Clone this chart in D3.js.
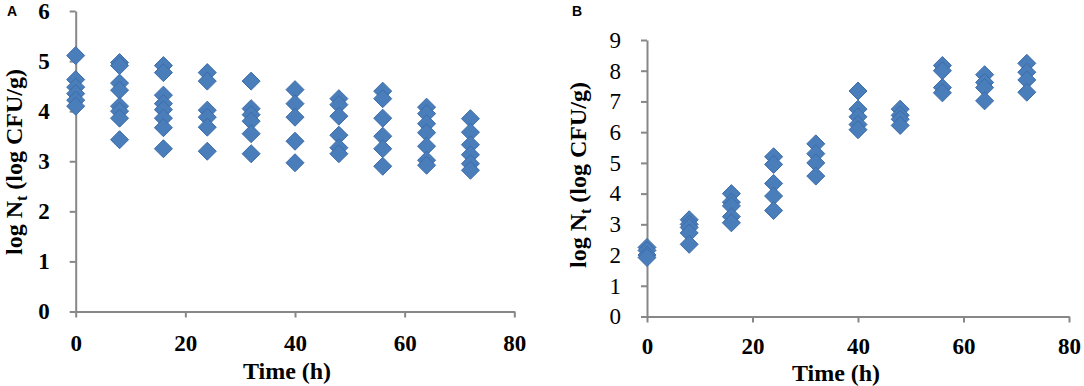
<!DOCTYPE html>
<html>
<head>
<meta charset="utf-8">
<script src="https://cdn.jsdelivr.net/npm/d3@7"></script>
<style>
  body { margin: 0; background: #fff; }
  svg { display: block; }
</style>
</head>
<body>
<svg id="chart" width="1084" height="386"></svg>
<script>
// sampling times (h)
const times = [0, 8, 16, 24, 32, 40, 48, 56, 64, 72];

// panel A: log Nt per time point
const countsA = [
  [5.11, 4.63, 4.48, 4.35, 4.22, 4.10],
  [4.97, 4.91, 4.56, 4.42, 4.10, 4.00, 3.86, 3.43],
  [4.91, 4.77, 4.32, 4.15, 4.03, 3.86, 3.67, 3.25],
  [4.77, 4.60, 4.02, 3.88, 3.68, 3.20],
  [4.60, 4.05, 3.93, 3.80, 3.55, 3.15],
  [4.43, 4.15, 3.88, 3.40, 2.97],
  [4.25, 4.13, 3.90, 3.52, 3.27, 3.15],
  [4.40, 4.25, 3.86, 3.50, 3.25, 2.90],
  [4.08, 3.95, 3.75, 3.57, 3.30, 3.02, 2.92],
  [3.85, 3.58, 3.33, 3.13, 2.95, 2.82]
];

// panel B: log Nt per time point
const countsB = [
  [2.25, 2.15, 2.00, 1.92],
  [3.15, 3.00, 2.90, 2.72, 2.35],
  [4.00, 3.72, 3.60, 3.25, 3.05],
  [5.20, 4.95, 4.33, 3.92, 3.45],
  [5.62, 5.30, 5.00, 4.57],
  [7.34, 6.75, 6.50, 6.25, 6.08],
  [6.75, 6.55, 6.42, 6.22],
  [8.17, 8.00, 7.45, 7.28],
  [7.87, 7.62, 7.45, 7.02],
  [8.24, 7.95, 7.70, 7.30]
];

const xTicks = [0, 20, 40, 60, 80];
const yTicksA = [0, 1, 2, 3, 4, 5, 6];
const yTicksB = [0, 1, 2, 3, 4, 5, 6, 7, 8, 9];

const svg = d3.select("#chart");
const serif = "'Liberation Serif', 'Times New Roman', serif";
const axisColor = "#878787";

// Excel style diamond marker
const diamond = {
  draw(ctx, size) {
    const r = Math.sqrt(size / 2);
    ctx.moveTo(0, -r);
    ctx.lineTo(r, 0);
    ctx.lineTo(0, r);
    ctx.lineTo(-r, 0);
    ctx.closePath();
  }
};

function drawPanel(p) {
  const g = svg.append("g");

  const x = d3.scaleLinear().domain([0, 80]).range([p.left, p.right]);
  const y = d3.scaleLinear().domain([0, p.yMax]).range([p.bottom, p.top]);

  // y axis
  const yAxis = g.append("g")
    .attr("transform", `translate(${p.left},0)`)
    .call(d3.axisLeft(y).tickValues(p.yTicks).tickFormat(d3.format("d"))
      .tickSize(6).tickSizeOuter(0).tickPadding(20));
  yAxis.selectAll("text")
    .style("font-family", serif)
    .style("font-size", "23px")
    .style("font-weight", p.yBold ? "bold" : "normal")
    .attr("fill", "#000");

  // x axis
  const xAxis = g.append("g")
    .attr("transform", `translate(0,${p.bottom})`)
    .call(d3.axisBottom(x).tickValues(xTicks).tickFormat(d3.format("d"))
      .tickSize(6).tickSizeOuter(0).tickPadding(p.xPad));
  xAxis.selectAll("text")
    .style("font-family", serif)
    .style("font-size", "23px")
    .style("font-weight", "bold")
    .attr("fill", "#000");

  [yAxis, xAxis].forEach(a => {
    a.select(".domain").attr("stroke", axisColor).attr("stroke-width", 2);
    a.selectAll(".tick line").attr("stroke", axisColor).attr("stroke-width", 2);
  });

  // points
  const pts = [];
  times.forEach((t, i) => p.counts[i].forEach(v => pts.push({ t: t, v: v })));
  g.append("g").selectAll("path")
    .data(pts)
    .join("path")
    .attr("transform", d => `translate(${x(d.t)},${y(d.v)})`)
    .attr("d", d3.symbol().type(diamond).size(162))
    .attr("fill", "#4a7ebb")
    .attr("stroke", "#3d6ca8")
    .attr("stroke-width", 1);

  // axis titles
  g.append("text")
    .attr("x", p.xTitleX)
    .attr("y", p.xTitleY)
    .attr("text-anchor", "middle")
    .style("font-family", serif)
    .style("font-size", "24px")
    .style("font-weight", "bold")
    .text("Time (h)");

  const yt = g.append("text")
    .attr("transform", `translate(${p.yTitleX},${p.yTitleY}) rotate(-90)`)
    .attr("text-anchor", "middle")
    .style("font-family", serif)
    .style("font-size", "24px")
    .style("font-weight", "bold");
  yt.append("tspan").text("log N");
  yt.append("tspan").attr("dy", 5).style("font-size", "16px").text("t");
  yt.append("tspan").attr("dy", -5).text(" (log CFU/g)");

  // panel letter
  g.append("text")
    .attr("x", p.letterX)
    .attr("y", 16)
    .style("font-family", "'Liberation Sans', Arial, sans-serif")
    .style("font-size", "14px")
    .style("font-weight", "bold")
    .text(p.letter);
}

drawPanel({
  letter: "A", letterX: 7,
  left: 75.7, right: 514.3, top: 11, bottom: 311.5,
  yMax: 6, yTicks: yTicksA, yBold: true,
  counts: countsA,
  xPad: 17, xTitleX: 287, xTitleY: 379,
  yTitleX: 22, yTitleY: 162
});

drawPanel({
  letter: "B", letterX: 572,
  left: 647, right: 1069, top: 40, bottom: 316.5,
  yMax: 9, yTicks: yTicksB, yBold: false,
  counts: countsB,
  xPad: 15, xTitleX: 836, xTitleY: 381,
  yTitleX: 586, yTitleY: 175
});
</script>
</body>
</html>
